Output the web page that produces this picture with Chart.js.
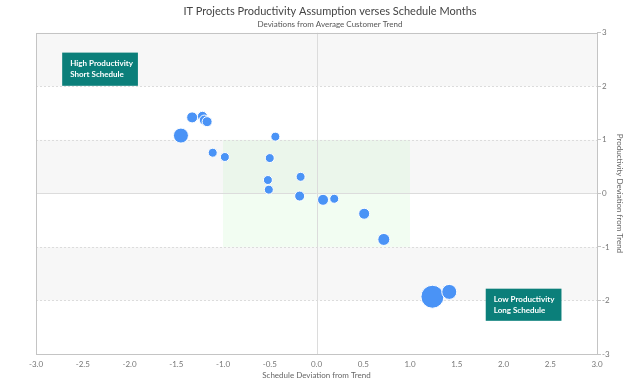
<!DOCTYPE html>
<html lang="en">
<head>
  <meta charset="UTF-8">
  <title>IT Projects Productivity Assumption verses Schedule Months</title>
  <script src="https://cdn.jsdelivr.net/npm/chart.js"></script>
  <style>
    body { margin: 0; background: #fff; }
  </style>
</head>
<body>
  <canvas id="myChart" width="624" height="382"></canvas>

  <script>
    // schedule deviation (x), productivity deviation (y), bubble size (px radius)
    const scheduleDev = [-1.45, -1.33, -1.22, -1.20, -1.17, -0.44, -1.11, -0.98, -0.50, -0.52, -0.51, -0.17, -0.18, 0.07, 0.19, 0.51, 0.72, 1.24, 1.42];
    const productivityDev = [1.08, 1.42, 1.44, 1.37, 1.34, 1.06, 0.76, 0.68, 0.66, 0.25, 0.07, 0.31, -0.05, -0.12, -0.10, -0.38, -0.86, -1.93, -1.84];
    const bubbleSize = [7.5, 5.5, 5, 5, 5, 4.5, 4.5, 4.5, 4.5, 4.5, 4.5, 4.5, 5, 5.5, 4.5, 5.5, 6, 11.5, 7.5];

    const xTicks = [-3, -2.5, -2, -1.5, -1, -0.5, 0, 0.5, 1, 1.5, 2, 2.5, 3];
    const yTicks = [-3, -2, -1, 0, 1, 2, 3];

    const notes = [
      { lines: ['High Productivity', 'Short Schedule'], x0: -2.72, x1: -1.91, y0: 2.63, y1: 2.01 },
      { lines: ['Low Productivity', 'Long Schedule'], x0: 1.81, x1: 2.62, y0: -1.78, y1: -2.38 }
    ];

    const points = scheduleDev.map((x, i) => ({ x: x, y: productivityDev[i], r: bubbleSize[i] }));

    // bands, target box, grid lines and the border round the plot
    const backdrop = {
      id: 'backdrop',
      beforeDatasetsDraw(chart) {
        const { ctx, chartArea: a, scales: { x, y } } = chart;
        ctx.save();
        yTicks.slice(0, -1).forEach(v => {
          if (v % 2 === 0) {
            ctx.fillStyle = '#f7f7f7';
            const top = y.getPixelForValue(v + 1), bot = y.getPixelForValue(v);
            ctx.fillRect(a.left, top, a.right - a.left, bot - top);
          }
        });
        ctx.fillStyle = 'rgba(190,245,190,0.2)';
        const gx0 = x.getPixelForValue(-1), gx1 = x.getPixelForValue(1);
        const gy0 = y.getPixelForValue(1), gy1 = y.getPixelForValue(-1);
        ctx.fillRect(gx0, gy0, gx1 - gx0, gy1 - gy0);

        ctx.lineWidth = 1;
        ctx.strokeStyle = '#dcdcdc';
        ctx.setLineDash([2, 2]);
        yTicks.forEach(v => {
          if (v === 0 || Math.abs(v) === 3) return;
          const py = Math.round(y.getPixelForValue(v)) + 0.5;
          ctx.beginPath(); ctx.moveTo(a.left, py); ctx.lineTo(a.right, py); ctx.stroke();
        });
        ctx.setLineDash([]);
        const zy = Math.round(y.getPixelForValue(0)) + 0.5;
        const zx = Math.round(x.getPixelForValue(0)) + 0.5;
        ctx.beginPath(); ctx.moveTo(a.left, zy); ctx.lineTo(a.right, zy); ctx.stroke();
        ctx.beginPath(); ctx.moveTo(zx, a.top); ctx.lineTo(zx, a.bottom); ctx.stroke();

        ctx.strokeStyle = '#c4c4c4';
        ctx.strokeRect(Math.round(a.left) + 0.5, Math.round(a.top) + 0.5, Math.round(a.right - a.left), Math.round(a.bottom - a.top));
        ctx.restore();
      },
      afterDatasetsDraw(chart) {
        const { ctx, scales: { x, y } } = chart;
        ctx.save();
        notes.forEach(n => {
          const l = x.getPixelForValue(n.x0), r = x.getPixelForValue(n.x1);
          const t = y.getPixelForValue(n.y0), b = y.getPixelForValue(n.y1);
          ctx.fillStyle = '#0b7f7a';
          ctx.fillRect(l, t, r - l, b - t);
          ctx.fillStyle = '#fff';
          ctx.font = 'bold 8px Lato, "Open Sans", sans-serif';
          ctx.textBaseline = 'middle';
          n.lines.forEach((s, i) => ctx.fillText(s, l + 8, t + 11 + i * 11));
        });
        ctx.restore();
      }
    };

    const ctx = document.getElementById('myChart').getContext('2d');
    new Chart(ctx, {
      type: 'bubble',
      data: {
        datasets: [{
          data: points,
          backgroundColor: '#4a93f6',
          borderColor: '#ffffff',
          borderWidth: 1,
          hoverRadius: 0
        }]
      },
      options: {
        responsive: false,
        animation: false,
        layout: { padding: { left: 36, right: 0, top: 0, bottom: 0 } },
        plugins: {
          legend: { display: false },
          tooltip: { enabled: false },
          title: {
            display: true,
            text: 'IT Projects Productivity Assumption verses Schedule Months',
            color: '#444',
            font: { family: 'Lato, "Open Sans", sans-serif', size: 11, weight: 'normal' },
            padding: { top: 5, bottom: 0 }
          },
          subtitle: {
            display: true,
            text: 'Deviations from Average Customer Trend',
            color: '#555',
            font: { family: 'Lato, "Open Sans", sans-serif', size: 8 },
            padding: { top: 1, bottom: 4 }
          }
        },
        scales: {
          x: {
            type: 'linear',
            min: -3, max: 3,
            afterBuildTicks: s => { s.ticks = xTicks.map(v => ({ value: v })); },
            afterFit: s => { s.height = 28; },
            grid: { display: false, drawTicks: false },
            border: { display: false },
            ticks: {
              color: '#777',
              font: { family: 'Lato, "Open Sans", sans-serif', size: 8 },
              padding: 6,
              maxRotation: 0,
              callback: v => v.toFixed(1)
            },
            title: {
              display: true,
              text: 'Schedule Deviation from Trend',
              color: '#666',
              font: { family: 'Lato, "Open Sans", sans-serif', size: 8 },
              padding: { top: 0, bottom: 2 }
            }
          },
          y: {
            type: 'linear',
            position: 'right',
            min: -3, max: 3,
            afterBuildTicks: s => { s.ticks = yTicks.map(v => ({ value: v })); },
            afterFit: s => { s.width = 27; },
            grid: { drawOnChartArea: false, tickLength: 4, color: '#c4c4c4' },
            border: { display: false },
            ticks: {
              color: '#777',
              font: { family: 'Lato, "Open Sans", sans-serif', size: 8 },
              padding: 1
            },
            title: {
              display: true,
              text: 'Productivity Deviation from Trend',
              color: '#666',
              font: { family: 'Lato, "Open Sans", sans-serif', size: 8 },
              padding: 0
            }
          }
        }
      },
      plugins: [backdrop]
    });
  </script>
</body>
</html>
